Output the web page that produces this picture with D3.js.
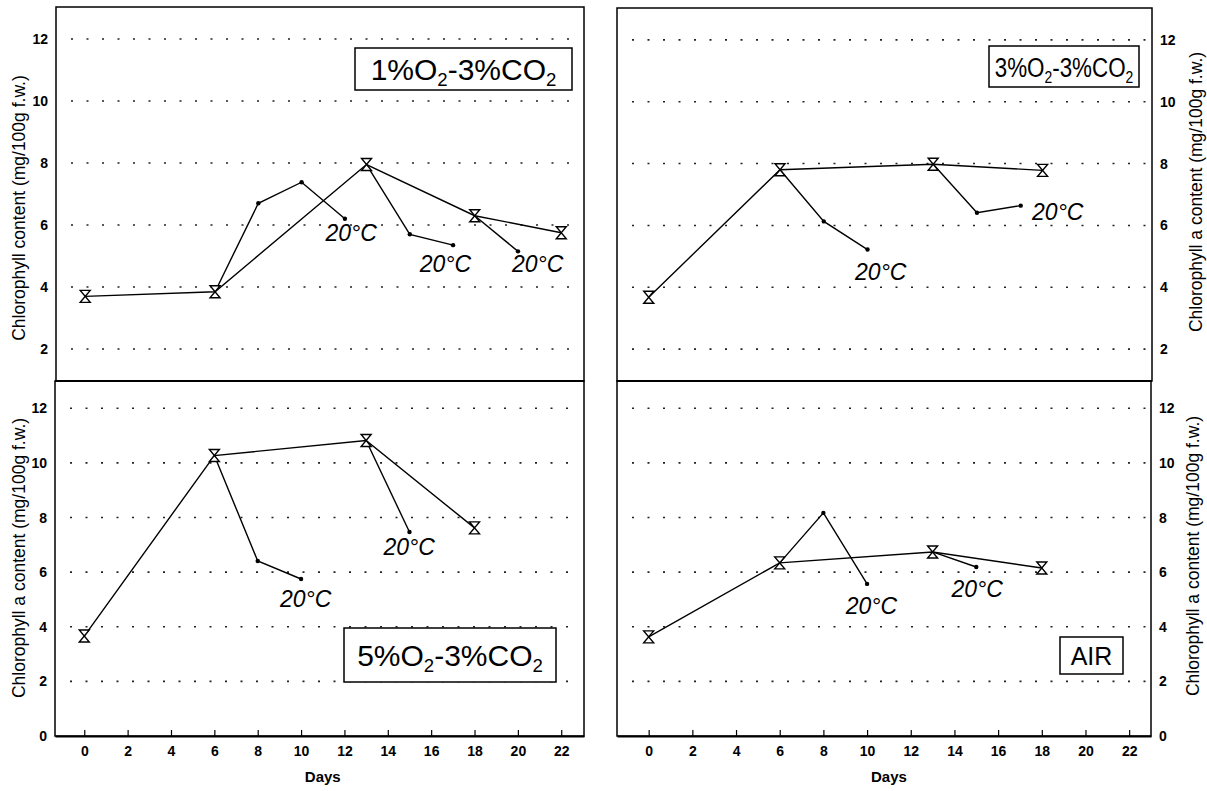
<!DOCTYPE html>
<html>
<head>
<meta charset="utf-8">
<script src="https://cdn.jsdelivr.net/npm/d3@7"></script>
<style>
  body { margin: 0; background: #fff; }
  svg { display: block; font-family: "Liberation Sans", Arial, sans-serif; }
</style>
</head>
<body>
<svg id="chart" width="1207" height="791"></svg>
<script>
// ticks
const dayTicks = [0, 2, 4, 6, 8, 10, 12, 14, 16, 18, 20, 22];
const topYTicks = [2, 4, 6, 8, 10, 12];
const bottomYTicks = [0, 2, 4, 6, 8, 10, 12];

// 1%O2-3%CO2 : storage series and 20°C transfer branches [day, value]
const mainA = [[0, 3.7], [6, 3.85], [13, 7.95], [18, 6.3], [22, 5.75]];
const warmA = [
  [[6, 3.85], [8, 6.7], [10, 7.38], [12, 6.2]],
  [[13, 7.95], [15, 5.7], [17, 5.35]],
  [[18, 6.3], [20, 5.15]]
];
const labelA = [[11.1, 5.48], [15.46, 4.47], [19.72, 4.47]];

// 3%O2-3%CO2
const mainB = [[0, 3.68], [6, 7.8], [13, 7.98], [18, 7.78]];
const warmB = [
  [[6, 7.8], [8, 6.13], [10, 5.22]],
  [[13, 7.98], [15, 6.41], [17, 6.64]]
];
const labelB = [[9.43, 4.23], [17.52, 6.19]];

// 5%O2-3%CO2
const mainC = [[0, 3.66], [6, 10.27], [13, 10.82], [18, 7.62]];
const warmC = [
  [[6, 10.27], [8, 6.41], [10, 5.75]],
  [[13, 10.82], [15, 7.47]]
];
const labelC = [[9.03, 4.73], [13.8, 6.63]];

// AIR
const mainD = [[0, 3.63], [6, 6.34], [13, 6.74], [18, 6.15]];
const warmD = [
  [[6, 6.34], [8, 8.17], [10, 5.57]],
  [[13, 6.74], [15, 6.19]]
];
const labelD = [[9.02, 4.47], [13.86, 5.09]];

const titleLeftTop = "Chlorophyll content (mg/100g f.w.)";
const titleOther = "Chlorophyll a content (mg/100g f.w.)";

const panels = [
  { main: mainA, warm: warmA, labels: labelA, x0: 56, x1: 584, y0: 7, y1: 381,
    xDomain: [-1.35, 23.05], yDomain: [0.97, 13.03], yTicks: topYTicks, side: "left", xAxis: false,
    box: { x: 355, y: 48, w: 217, h: 42, size: 30, sx: 1 }, O: "1", C: "3" },
  { main: mainB, warm: warmB, labels: labelB, x0: 617, x1: 1152, y0: 8, y1: 381,
    xDomain: [-1.45, 23.0], yDomain: [0.97, 13.03], yTicks: topYTicks, side: "right", xAxis: false,
    box: { x: 989, y: 46, w: 150, h: 41, size: 28, sx: 0.8 }, O: "3", C: "3" },
  { main: mainC, warm: warmC, labels: labelC, x0: 55, x1: 584, y0: 381, y1: 736,
    xDomain: [-1.35, 23.05], yDomain: [0, 13], yTicks: bottomYTicks, side: "left", xAxis: true,
    box: { x: 344, y: 628, w: 212, h: 54, size: 30, sx: 1 }, O: "5", C: "3" },
  { main: mainD, warm: warmD, labels: labelD, x0: 617, x1: 1151, y0: 381, y1: 736,
    xDomain: [-1.45, 23.0], yDomain: [0, 13], yTicks: bottomYTicks, side: "right", xAxis: true,
    box: { x: 1060, y: 637, w: 63, h: 37, size: 25, sx: 1 }, air: true }
];

const svg = d3.select("#chart");

function hourglass(g) {
  g.append("path")
    .attr("d", "M-5,-6H5L-5,6H5Z")
    .attr("fill", "#fff")
    .attr("stroke", "#000")
    .attr("stroke-width", 1.4);
}

panels.forEach(p => {
  const x = d3.scaleLinear().domain(p.xDomain).range([p.x0, p.x1]);
  const y = d3.scaleLinear().domain(p.yDomain).range([p.y1, p.y0]);
  const g = svg.append("g");

  // dotted grid
  g.append("g").selectAll("line")
    .data(p.yTicks.filter(v => v > 0))
    .join("line")
    .attr("x1", p.x0 + 15).attr("x2", p.x1 - 4)
    .attr("y1", d => y(d)).attr("y2", d => y(d))
    .attr("stroke", "#222")
    .attr("stroke-width", 1.6)
    .attr("stroke-dasharray", "2,13.5");

  // frame
  g.append("rect")
    .attr("x", p.x0).attr("y", p.y0)
    .attr("width", p.x1 - p.x0).attr("height", p.y1 - p.y0)
    .attr("fill", "none").attr("stroke", "#000").attr("stroke-width", 1.5);

  // y tick labels
  const yAxis = (p.side === "left" ? d3.axisLeft(y) : d3.axisRight(y))
    .tickValues(p.yTicks).tickSize(0).tickPadding(8);
  const ya = g.append("g")
    .attr("transform", `translate(${p.side === "left" ? p.x0 : p.x1},0)`)
    .call(yAxis);
  ya.select(".domain").remove();
  ya.selectAll("text").attr("font-size", 14).attr("font-weight", "bold")
    .attr("font-family", "Liberation Sans, Arial, sans-serif");

  // x axis
  if (p.xAxis) {
    const xa = g.append("g")
      .attr("transform", `translate(0,${p.y1})`)
      .call(d3.axisTop(x).tickValues(dayTicks).tickSize(6).tickFormat(() => ""));
    xa.select(".domain").remove();
    xa.selectAll("line").attr("stroke-width", 1.2);
    const xl = g.append("g")
      .attr("transform", `translate(0,${p.y1})`)
      .call(d3.axisBottom(x).tickValues(dayTicks).tickSize(0).tickPadding(10));
    xl.select(".domain").attr("stroke-width", 2.2);
    xl.selectAll("text").attr("font-size", 14).attr("font-weight", "bold")
      .attr("font-family", "Liberation Sans, Arial, sans-serif");
    g.append("text")
      .attr("x", (x(0) + x(22)) / 2).attr("y", 782)
      .attr("text-anchor", "middle")
      .attr("font-size", 15).attr("font-weight", "bold")
      .text("Days");
  }

  const line = d3.line().x(d => x(d[0])).y(d => y(d[1]));

  // 20°C branches
  p.warm.forEach(b => {
    g.append("path").attr("d", line(b))
      .attr("fill", "none").attr("stroke", "#000").attr("stroke-width", 1.4);
    g.selectAll(null).data(b.slice(1)).join("circle")
      .attr("cx", d => x(d[0])).attr("cy", d => y(d[1]))
      .attr("r", 2.2).attr("fill", "#000");
  });

  // main storage series
  g.append("path").attr("d", line(p.main))
    .attr("fill", "none").attr("stroke", "#000").attr("stroke-width", 1.4);
  g.selectAll(null).data(p.main).join("g")
    .attr("transform", d => `translate(${x(d[0])},${y(d[1])})`)
    .call(hourglass);

  // 20°C labels
  g.selectAll(null).data(p.labels).join("text")
    .attr("x", d => x(d[0])).attr("y", d => y(d[1]))
    .attr("font-size", 23).attr("font-style", "italic")
    .text("20°C");

  // condition box
  const b = p.box;
  g.append("rect")
    .attr("x", b.x).attr("y", b.y).attr("width", b.w).attr("height", b.h)
    .attr("fill", "#fff").attr("stroke", "#000").attr("stroke-width", 1.5);
  const t = g.append("text")
    .attr("transform", `translate(${b.x + b.w / 2},${b.y + b.h / 2 + b.size * 0.36}) scale(${b.sx},1)`)
    .attr("text-anchor", "middle")
    .attr("font-size", b.size);
  if (p.air) {
    t.text("AIR");
  } else {
    const sub = Math.round(b.size * 0.2);
    t.append("tspan").text(p.O + "%O");
    t.append("tspan").attr("font-size", b.size * 0.62).attr("dy", sub).text("2");
    t.append("tspan").attr("dy", -sub).text("-" + p.C + "%CO");
    t.append("tspan").attr("font-size", b.size * 0.62).attr("dy", sub).text("2");
  }
});

// divider between top and bottom rows
svg.append("line").attr("x1", 55).attr("x2", 584).attr("y1", 381).attr("y2", 381)
  .attr("stroke", "#000").attr("stroke-width", 2.2);
svg.append("line").attr("x1", 617).attr("x2", 1152).attr("y1", 381).attr("y2", 381)
  .attr("stroke", "#000").attr("stroke-width", 2.2);

// axis titles
const titles = [
  { text: titleLeftTop, x: 19, y: 208 },
  { text: titleOther, x: 19, y: 558 },
  { text: titleOther, x: 1196, y: 192 },
  { text: titleOther, x: 1193, y: 556 }
];
svg.selectAll(null).data(titles).join("text")
  .attr("transform", d => `translate(${d.x},${d.y}) rotate(-90)`)
  .attr("text-anchor", "middle")
  .attr("dy", "0.35em")
  .attr("font-size", 17.5)
  .text(d => d.text);
</script>
</body>
</html>
